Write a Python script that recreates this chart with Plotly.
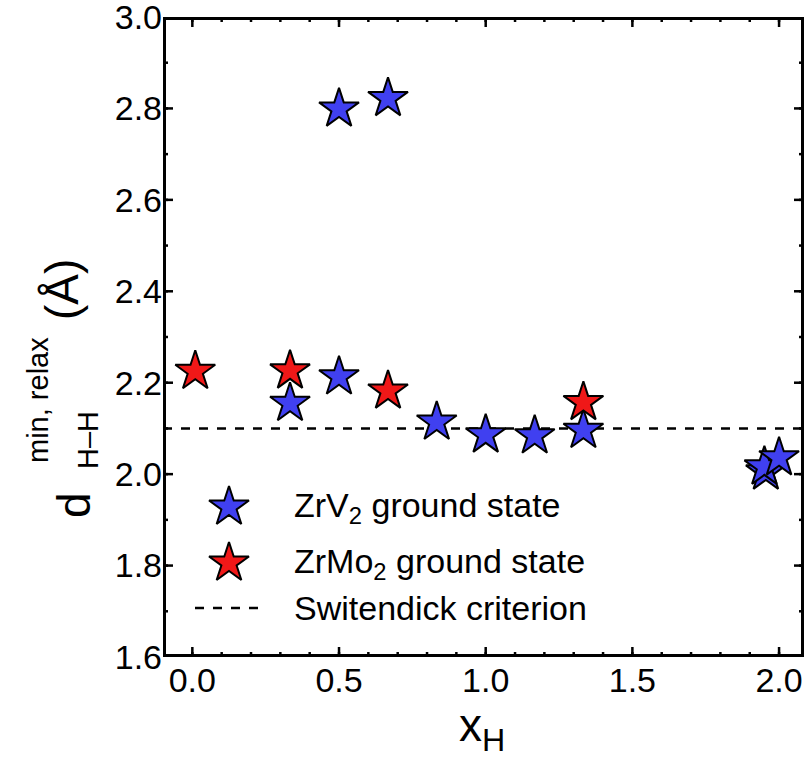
import plotly.graph_objects as go

# Data
zrv2_x = [0.5, 0.667, 0.333, 0.5, 0.833, 1.0, 1.167, 1.333, 1.955, 1.95, 2.0]
zrv2_y = [2.799, 2.822, 2.155, 2.213, 2.114, 2.086, 2.084, 2.096, 2.005, 2.016, 2.036]
zrmo2_x = [0.01, 0.333, 0.667, 1.333]
zrmo2_y = [2.225, 2.226, 2.182, 2.157]
switendick = 2.1
x_range = [-0.1, 2.085]
y_range = [1.6, 3.0]
x_ticks = [0.0, 0.5, 1.0, 1.5, 2.0]
y_ticks = [1.6, 1.8, 2.0, 2.2, 2.4, 2.6, 2.8, 3.0]
x_minor = [round(0.1 * i, 1) for i in range(0, 21)]
y_minor = [round(1.6 + 0.1 * i, 1) for i in range(0, 15)]

legend_labels = ["ZrV<sub>2</sub> ground state", "ZrMo<sub>2</sub> ground state", "Switendick criterion"]

W, H = 810, 760
L, R, T, B = 163, 6, 17, 103
PW, PH = W - L - R, H - T - B

def px(x):
    return (x - L) / PW

def py(y):
    return (H - B - y) / PH

# pixel -> data (for the legend glyphs placed inside the plot area)
def dx(p):
    return x_range[0] + px(p) * (x_range[1] - x_range[0])

def dy(p):
    return y_range[0] + py(p) * (y_range[1] - y_range[0])

FONT = "Arial, Liberation Sans, sans-serif"
BLUE = "#4040f0"
RED = "#f01818"
STAR = 30

fig = go.Figure()
fig.add_trace(go.Scatter(x=x_range, y=[switendick, switendick], mode="lines",
                         line=dict(color="black", width=2.5, dash="dash"), showlegend=False))
fig.add_trace(go.Scatter(x=zrv2_x, y=zrv2_y, mode="markers",
                         marker=dict(symbol="star", size=STAR, color=BLUE, line=dict(color="black", width=2)),
                         showlegend=False))
fig.add_trace(go.Scatter(x=zrmo2_x, y=zrmo2_y, mode="markers",
                         marker=dict(symbol="star", size=STAR, color=RED, line=dict(color="black", width=2)),
                         showlegend=False))

# custom legend glyphs
leg_py = [507, 563, 608]
fig.add_trace(go.Scatter(x=[dx(229)], y=[dy(leg_py[0])], mode="markers",
                         marker=dict(symbol="star", size=STAR, color=BLUE, line=dict(color="black", width=2)),
                         showlegend=False))
fig.add_trace(go.Scatter(x=[dx(229)], y=[dy(leg_py[1])], mode="markers",
                         marker=dict(symbol="star", size=STAR, color=RED, line=dict(color="black", width=2)),
                         showlegend=False))
fig.add_trace(go.Scatter(x=[dx(195), dx(266)], y=[dy(leg_py[2])] * 2, mode="lines",
                         line=dict(color="black", width=2.5, dash="dash"), showlegend=False))

# frame and inward ticks on all sides, drawn as line traces through the axis scales
x0, x1 = x_range
y0, y1 = y_range
fig.add_trace(go.Scatter(x=[x0, x1, x1, x0, x0], y=[y0, y0, y1, y1, y0], mode="lines",
                         line=dict(color="black", width=6), showlegend=False))
for vals, ln in ((x_ticks, 10), (x_minor, 5)):
    h = ln / PH * (y1 - y0)
    for v in vals:
        fig.add_trace(go.Scatter(x=[v, v], y=[y0, y0 + h], mode="lines",
                                 line=dict(color="black", width=2.5), showlegend=False))
        fig.add_trace(go.Scatter(x=[v, v], y=[y1, y1 - h], mode="lines",
                                 line=dict(color="black", width=2.5), showlegend=False))
for vals, ln in ((y_ticks, 10), (y_minor, 5)):
    w = ln / PW * (x1 - x0)
    for v in vals:
        fig.add_trace(go.Scatter(x=[x0, x0 + w], y=[v, v], mode="lines",
                                 line=dict(color="black", width=2.5), showlegend=False))
        fig.add_trace(go.Scatter(x=[x1, x1 - w], y=[v, v], mode="lines",
                                 line=dict(color="black", width=2.5), showlegend=False))

annotations = []
for lab, yy in zip(legend_labels, leg_py):
    annotations.append(dict(text=lab, x=px(292), y=py(yy), xref="paper", yref="paper",
                            xanchor="left", yanchor="middle", showarrow=False,
                            font=dict(family=FONT, size=34, color="black")))

def ann(text, x, y, size, angle=0):
    return dict(text=text, x=px(x), y=py(y), xref="paper", yref="paper", textangle=angle,
                xanchor="center", yanchor="middle", showarrow=False,
                font=dict(family=FONT, size=size, color="black"))

# y-axis title pieces (rotated) and x-axis title
annotations += [
    ann("d", 74, 505, 46, -90),
    ann("min, relax", 38, 400, 29, -90),
    ann("H\u2013H", 88, 440, 29, -90),
    ann("(\u00c5)", 62, 290, 46, -90),
    ann("x<sub>H</sub>", 482, 728, 46),
]

fig.update_layout(
    width=W, height=H,
    margin=dict(l=L, r=R, t=T, b=B, autoexpand=False),
    plot_bgcolor="white", paper_bgcolor="white",
    showlegend=False,
    xaxis=dict(range=x_range, tickmode="array", tickvals=x_ticks,
               ticktext=["%.1f" % v for v in x_ticks], ticks="", showline=False,
               showgrid=False, zeroline=False, ticklabeloverflow="allow", automargin=False,
               tickfont=dict(family=FONT, size=34, color="black")),
    yaxis=dict(range=y_range, tickmode="array", tickvals=y_ticks,
               ticktext=["%.1f" % v for v in y_ticks], ticks="", showline=False,
               showgrid=False, zeroline=False, ticklabeloverflow="allow", automargin=False,
               tickfont=dict(family=FONT, size=34, color="black")),
    annotations=annotations,
)

fig.write_html("out.html")
